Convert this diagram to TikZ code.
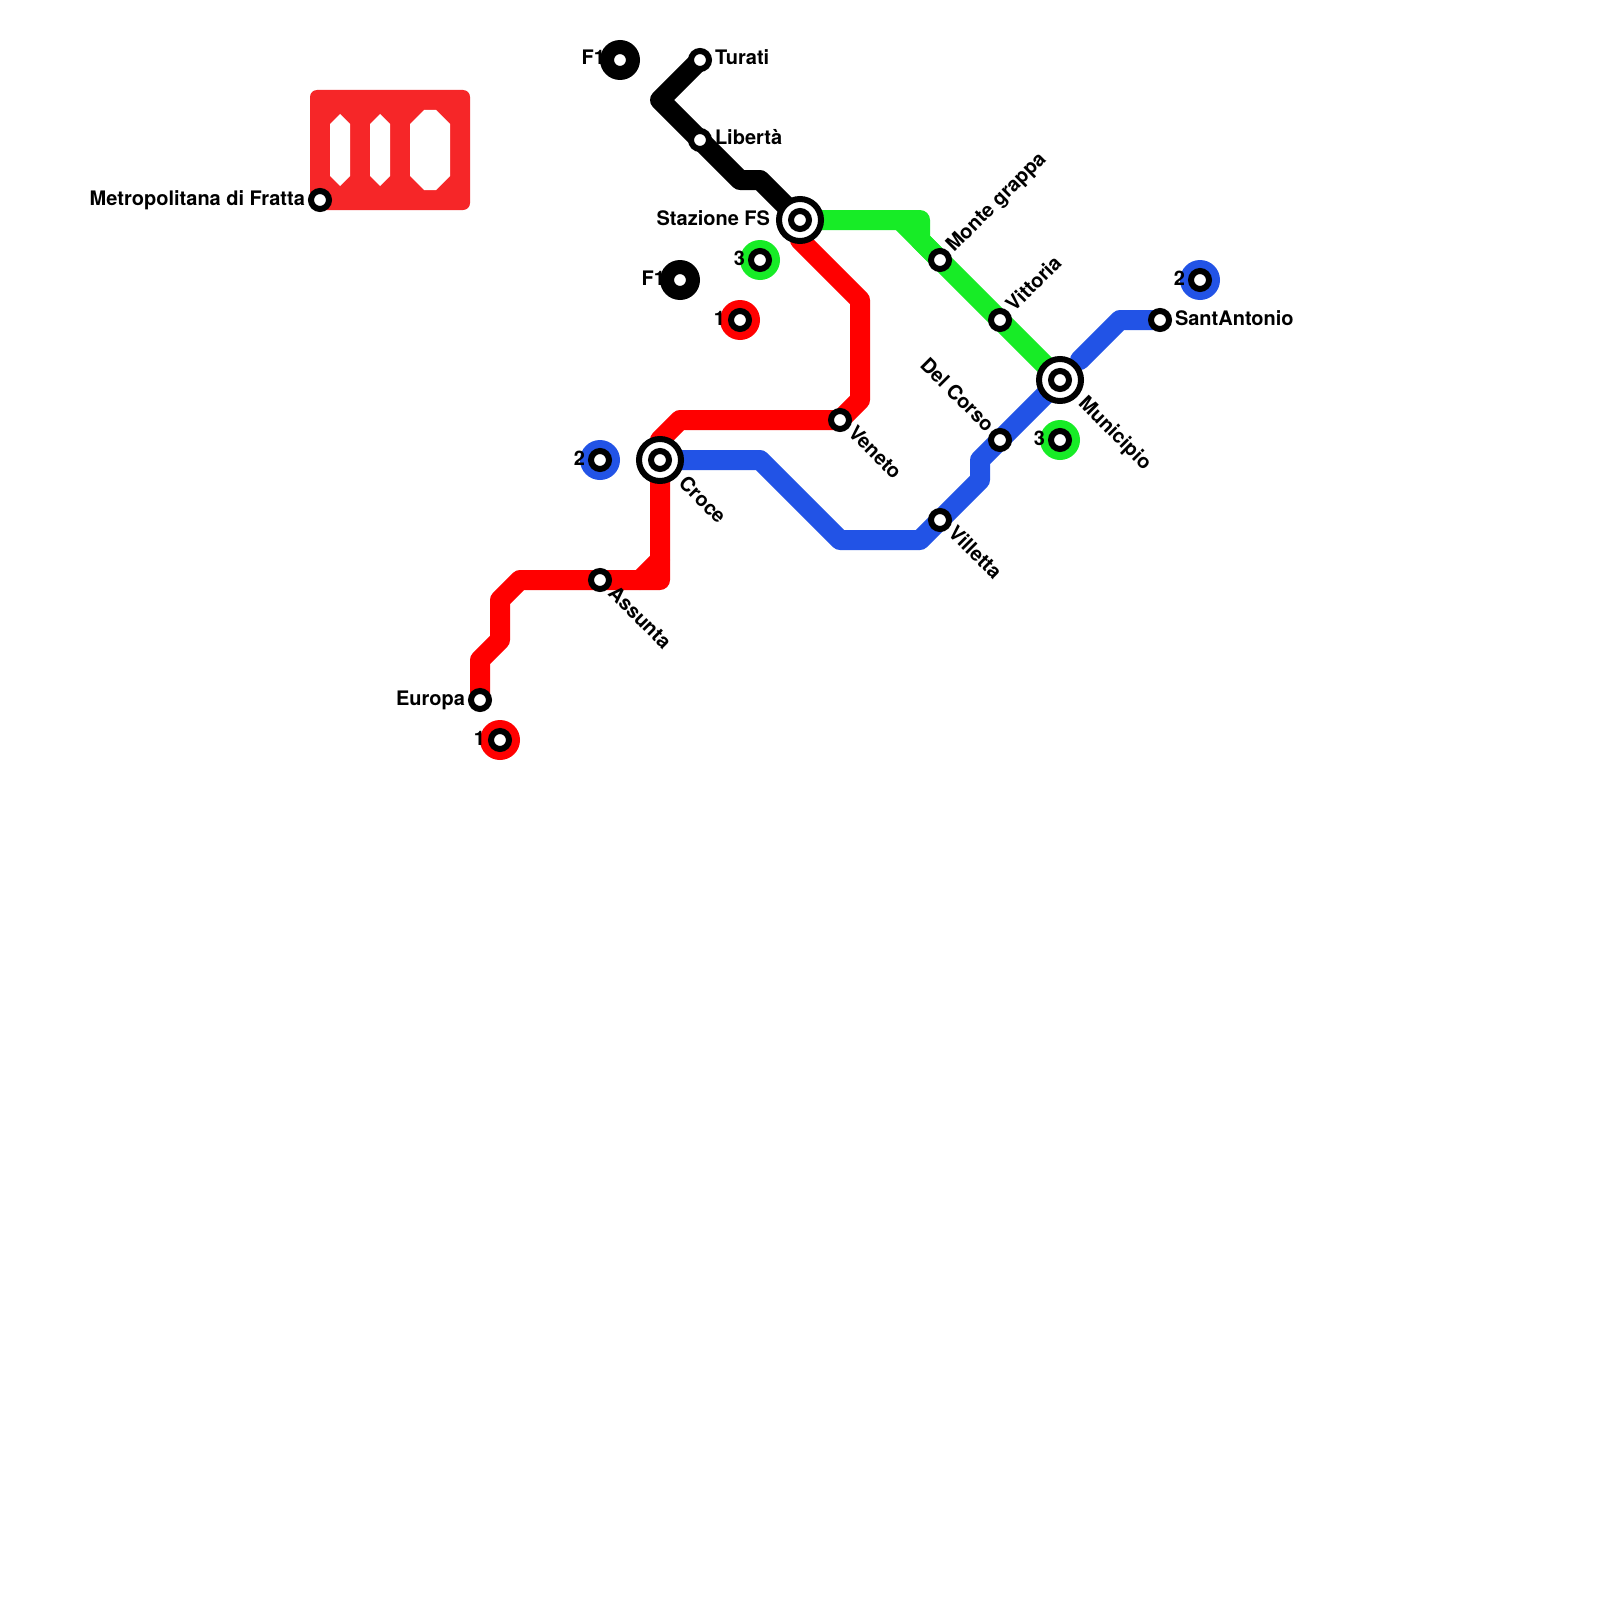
\documentclass[tikz,border=0pt]{standalone}
\usepackage{fontspec}
\setmainfont{TeX Gyre Heros}
\usetikzlibrary{backgrounds}
\definecolor{lred}{HTML}{FF0000}
\definecolor{lblue}{HTML}{2253E6}
\definecolor{lgreen}{HTML}{17EC26}
\definecolor{rectred}{HTML}{F62628}
\tikzset{
  x=1pt,y=-1pt,
  stationdot/.style={circle,draw=black,fill=white,line width=6pt,minimum size=18pt,inner sep=0pt,outer sep=0pt},
  hubring/.style={circle,draw=black,fill=white,line width=6pt,minimum size=42pt,inner sep=0pt,outer sep=0pt},
  disc/.style={circle,minimum size=40pt,inner sep=0pt,outer sep=0pt},
  lab/.style={inner sep=0pt,outer sep=0pt,font=\fontsize{20}{24}\selectfont\bfseries,text=black},
  metro/.style={line width=20pt,line join=round,line cap=round},
  hole/.style={fill=white,draw=none}
}
\begin{document}
\begin{tikzpicture}
\useasboundingbox (0,0) rectangle (1600,1600);
% logo
\begin{scope}[on background layer]
\fill[white] (0,0) rectangle (1600,1600);
\fill[rectred,rounded corners=7pt] (310,90) rectangle (470,210);
\fill[hole] (340,114)--(350,124)--(350,176)--(340,186)--(330,176)--(330,124)--cycle;
\fill[hole] (380,114)--(390,124)--(390,176)--(380,186)--(370,176)--(370,124)--cycle;
\fill[hole] (424,110)--(436,110)--(450,124)--(450,176)--(436,190)--(424,190)--(410,176)--(410,124)--cycle;
\end{scope}
% discs
\node[disc,fill=black] (fa) at (620,60) {};
\node[disc,fill=black] (fb) at (680,280) {};
\node[disc,fill=lgreen] (ga) at (760,260) {};
\node[disc,fill=lred] (ra) at (740,320) {};
\node[disc,fill=lblue] (ba) at (600,460) {};
\node[disc,fill=lred] (rb) at (500,740) {};
\node[disc,fill=lgreen] (gb) at (1060,440) {};
\node[disc,fill=lblue] (bb) at (1200,280) {};
% labels
\node[lab,anchor=base east] (lmetro) at (305,205) {Metropolitana di Fratta};
\node[lab,anchor=base west] (lturati) at (715,65) {Turati};
\node[lab,anchor=base west] (lliberta) at (715,145) {Libertà};
\node[lab,anchor=base east] (lfs) at (770,225) {Stazione FS};
\node[lab,anchor=base east] (lfa) at (605,65) {F1};
\node[lab,anchor=base east] (lfb) at (665,285) {F1};
\node[lab,anchor=base east] (lga) at (745,265) {3};
\node[lab,anchor=base east] (lra) at (725,325) {1};
\node[lab,anchor=base east] (lba) at (585,465) {2};
\node[lab,anchor=base east] (lrb) at (485,745) {1};
\node[lab,anchor=base east] (lgb) at (1045,445) {3};
\node[lab,anchor=base east] (lbb) at (1185,285) {2};
\node[lab,anchor=base east] (leuropa) at (465,705) {Europa};
\node[lab,anchor=base west] (lsant) at (1175,325) {SantAntonio};
\node[lab,anchor=base west,rotate=-45] (lassunta) at (607.07,594.14) {Assunta};
\node[lab,anchor=base west,rotate=-45] (lcroce) at (677.68,484.75) {Croce};
\node[lab,anchor=base west,rotate=-45] (lveneto) at (847.07,434.14) {Veneto};
\node[lab,anchor=base west,rotate=-45] (lvilletta) at (947.07,534.14) {Villetta};
\node[lab,anchor=base west,rotate=-45] (lmunicipio) at (1077.68,404.75) {Municipio};
\node[lab,anchor=base west,rotate=45] (lmonte) at (954.14,252.93) {Monte grappa};
\node[lab,anchor=base west,rotate=45] (lvittoria) at (1014.14,312.93) {Vittoria};
\node[lab,anchor=base east,rotate=-45] (ldelcorso) at (985.86,432.93) {Del Corso};
% hubs
\node[hubring] (fs) at (800,220) {};
\node[hubring] (croce) at (660,460) {};
\node[hubring] (municipio) at (1060,380) {};
% stations
\node[stationdot] (metro) at (320,200) {};
\node[stationdot] (turati) at (700,60) {};
\node[stationdot] (liberta) at (700,140) {};
\node[stationdot] (fsin) at (800,220) {};
\node[stationdot] (sfa) at (620,60) {};
\node[stationdot] (sfb) at (680,280) {};
\node[stationdot] (sga) at (760,260) {};
\node[stationdot] (sra) at (740,320) {};
\node[stationdot] (sba) at (600,460) {};
\node[stationdot] (srb) at (500,740) {};
\node[stationdot] (sgb) at (1060,440) {};
\node[stationdot] (sbb) at (1200,280) {};
\node[stationdot] (europa) at (480,700) {};
\node[stationdot] (assunta) at (600,580) {};
\node[stationdot] (crocein) at (660,460) {};
\node[stationdot] (veneto) at (840,420) {};
\node[stationdot] (monte) at (940,260) {};
\node[stationdot] (vittoria) at (1000,320) {};
\node[stationdot] (munin) at (1060,380) {};
\node[stationdot] (delcorso) at (1000,440) {};
\node[stationdot] (villetta) at (940,520) {};
\node[stationdot] (sant) at (1160,320) {};
\coordinate (bluestart) at (1080,360);
% lines
\begin{scope}[on background layer]
\draw[metro,black] (turati.center)--(660,100)--(liberta.center)--(740,180)--(760,180)--(fs.center);
\draw[metro,lgreen] (fs.center)--(920,220)--(920,240)--(monte.center);
\draw[metro,lgreen] (900,220)--(monte.center)--(vittoria.center)--(municipio.center);
\draw[metro,lred] (fs.center)--(800,240)--(860,300)--(860,400)--(veneto.center)--(680,420)--(660,440)--(croce.center)--(660,580)--(assunta.center)--(520,580)--(500,600)--(500,640)--(480,660)--(europa.center);
\draw[metro,lred] (640,580)--(660,560);
\draw[metro,lblue] (croce.center)--(760,460)--(840,540)--(920,540)--(villetta.center)--(980,480)--(980,460)--(delcorso.center)--(municipio.center);
\draw[metro,lblue] (bluestart)--(1120,320)--(sant.center);
\end{scope}
\end{tikzpicture}
\end{document}
